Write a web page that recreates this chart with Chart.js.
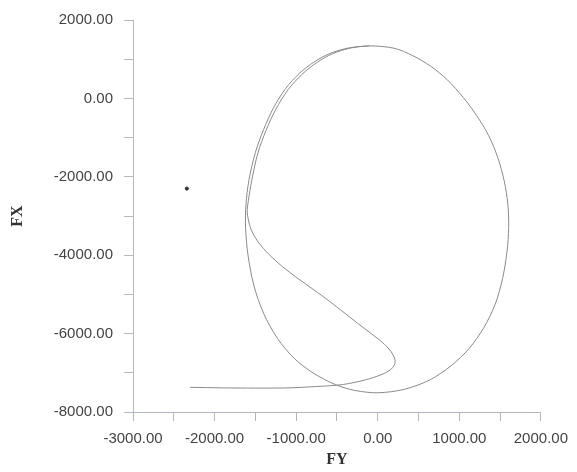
<!DOCTYPE html>
<html>
<head>
<meta charset="utf-8">
<script src="https://cdn.jsdelivr.net/npm/chart.js@4"></script>
<style>
  html, body { margin: 0; padding: 0; background: #fff; }
  #wrap { width: 577px; height: 472px; }
</style>
</head>
<body>
<div id="wrap"><canvas id="myChart" width="577" height="472"></canvas></div>
<script>
// tramo inicial horizontal (FY, FX)
const tailFY = [-2300, -1900, -1500, -1100, -750, -430];
const tailFX = [-7370, -7385, -7390, -7385, -7350, -7300];

// lazo interior, curva en S y lado izquierdo interior
const loopFY = [-150, 40, 150, 205, 210, 160, 60, -80, -250, -440, -640, -840, -1040, -1220, -1370, -1480, -1560, -1600, -1585, -1545, -1470, -1370, -1250, -1100, -930, -750, -555, -330, -100];
const loopFX = [-7180, -7050, -6930, -6800, -6650, -6450, -6230, -6000, -5730, -5420, -5100, -4800, -4500, -4200, -3900, -3620, -3300, -2900, -2600, -2100, -1400, -820, -280, 220, 610, 910, 1140, 1285, 1340];

// ciclo limite (sentido horario desde arriba)
const cycleFY = [-100, 200, 430, 650, 850, 1050, 1210, 1360, 1470, 1550, 1595, 1605, 1585, 1530, 1440, 1300, 1120, 900, 640, 330, 0, -280, -520, -780, -1020, -1230, -1400, -1520, -1590, -1620, -1615, -1580, -1500, -1400, -1280, -1130, -960, -780, -580, -350, -100];
const cycleFX = [1340, 1280, 1090, 820, 480, 20, -430, -950, -1500, -2100, -2700, -3300, -3900, -4600, -5250, -5850, -6380, -6820, -7180, -7420, -7510, -7450, -7300, -7020, -6640, -6120, -5480, -4760, -4000, -3300, -2700, -2100, -1380, -800, -250, 250, 640, 930, 1150, 1290, 1340];

// punto aislado
const dotFY = [-2340];
const dotFX = [-2300];

const toPoints = (xs, ys) => xs.map((x, i) => ({ x: x, y: ys[i] }));

const trajectory = toPoints(tailFY, tailFX)
    .concat(toPoints(loopFY, loopFX))
    .concat(toPoints(cycleFY, cycleFX).slice(1));

const tickFont = { family: "'Liberation Sans', Arial, sans-serif", size: 15 };
const titleFont = { family: "'Liberation Serif', 'Times New Roman', serif", size: 16, weight: 'bold' };
const axisColor = '#b4b8c0';

const ctx = document.getElementById('myChart').getContext('2d');

const config = {
    type: 'scatter',
    data: {
        datasets: [{
            data: trajectory,
            showLine: true,
            borderColor: '#8a8a8a',
            borderWidth: 1,
            pointRadius: 0,
            tension: 0.3
        }, {
            data: toPoints(dotFY, dotFX),
            showLine: false,
            pointRadius: 1.6,
            pointBackgroundColor: '#333',
            pointBorderColor: '#333'
        }]
    },
    options: {
        responsive: false,
        animation: false,
        layout: { padding: { left: 8, top: 16, right: 35, bottom: 0 } },
        plugins: {
            legend: { display: false },
            tooltip: { enabled: false }
        },
        scales: {
            x: {
                type: 'linear',
                min: -3000,
                max: 2000,
                afterFit: (scale) => { scale.height = 60; },
                grid: {
                    drawOnChartArea: false,
                    tickLength: 9,
                    color: axisColor
                },
                border: { color: axisColor },
                ticks: {
                    stepSize: 500,
                    autoSkip: false,
                    maxRotation: 0,
                    padding: 9,
                    color: '#444',
                    font: tickFont,
                    callback: (v) => (v % 1000 === 0 ? Number(v).toFixed(2) : '')
                },
                title: {
                    display: true,
                    text: 'FY',
                    color: '#333',
                    font: titleFont,
                    padding: { top: 0, bottom: 3 }
                }
            },
            y: {
                type: 'linear',
                min: -8000,
                max: 2000,
                afterFit: (scale) => { scale.width = 125; },
                grid: {
                    drawOnChartArea: false,
                    tickLength: 9,
                    color: axisColor
                },
                border: { color: axisColor },
                ticks: {
                    stepSize: 1000,
                    autoSkip: false,
                    padding: 11,
                    color: '#444',
                    font: tickFont,
                    callback: (v) => (v % 2000 === 0 ? Number(v).toFixed(2) : '')
                },
                title: {
                    display: true,
                    text: 'FX',
                    color: '#333',
                    font: titleFont,
                    padding: { top: 0, bottom: 0 }
                }
            }
        }
    }
};

const myChart = new Chart(ctx, config);
</script>
</body>
</html>
